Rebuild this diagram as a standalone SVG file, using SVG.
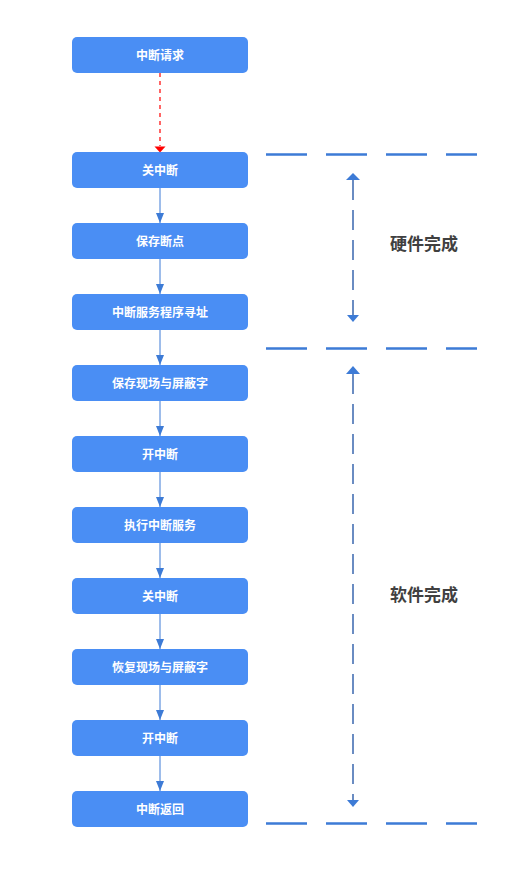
<svg xmlns="http://www.w3.org/2000/svg" width="520" height="894" viewBox="0 0 520 894">
<style>
.box{fill:#4a8ef4;}
.bt{font-family:"Noto Sans CJK SC","Noto Sans",sans-serif;font-size:12px;font-weight:bold;fill:#ffffff;text-anchor:middle;}
.lab{font-family:"Noto Sans CJK SC","Noto Sans",sans-serif;font-size:17px;font-weight:bold;fill:#404040;text-anchor:middle;}
.flow{stroke:#3d7bd6;stroke-width:1;fill:none;}
.sep{stroke:#3d7bd6;stroke-width:2.5;stroke-dasharray:41 19;fill:none;}
.span{stroke:#6a8cc2;stroke-width:2;stroke-dasharray:20 10;fill:none;}
</style>
<defs>
<marker id="ah" markerUnits="userSpaceOnUse" markerWidth="12" markerHeight="8" refX="10" refY="4" orient="auto">
<path d="M0,0 L10,4 L0,8 Z" fill="#3d7bd6"/>
</marker>
<marker id="ahr" markerUnits="userSpaceOnUse" markerWidth="12" markerHeight="12" refX="6" refY="6" orient="auto">
<path d="M0,0 L6,6 L0,12 Z" fill="#ff0000"/>
</marker>
</defs>
<rect width="520" height="894" fill="#ffffff"/>
<g id="connectors">
<line x1="160" y1="73" x2="160" y2="146" stroke="#ff0000" stroke-width="1.2" stroke-dasharray="4 4"/>
<path d="M154.5,146.5 L165.5,146.5 L160,152.5 Z" fill="#ff0000"/>
<line class="flow" x1="160" y1="188" x2="160" y2="223" marker-end="url(#ah)"/>
<line class="flow" x1="160" y1="259" x2="160" y2="294" marker-end="url(#ah)"/>
<line class="flow" x1="160" y1="330" x2="160" y2="365" marker-end="url(#ah)"/>
<line class="flow" x1="160" y1="401" x2="160" y2="436" marker-end="url(#ah)"/>
<line class="flow" x1="160" y1="472" x2="160" y2="507" marker-end="url(#ah)"/>
<line class="flow" x1="160" y1="543" x2="160" y2="578" marker-end="url(#ah)"/>
<line class="flow" x1="160" y1="614" x2="160" y2="649" marker-end="url(#ah)"/>
<line class="flow" x1="160" y1="685" x2="160" y2="720" marker-end="url(#ah)"/>
<line class="flow" x1="160" y1="756" x2="160" y2="791" marker-end="url(#ah)"/>
</g>
<g id="separators">
<line class="sep" x1="266" y1="154.5" x2="477" y2="154.5"/>
<line class="sep" x1="266" y1="348.5" x2="477" y2="348.5"/>
<line class="sep" x1="266" y1="823.5" x2="477" y2="823.5"/>
</g>
<g id="span-hardware">
<line class="span" x1="353" y1="180" x2="353" y2="315"/>
<path d="M346,180 L360,180 L353,173 Z" fill="#3d7bd6"/>
<path d="M347,315 L359,315 L353,322 Z" fill="#3d7bd6"/>
<text class="lab" x="424" y="250">硬件完成</text>
</g>
<g id="span-software">
<line class="span" x1="353" y1="374" x2="353" y2="800"/>
<path d="M346,374 L360,374 L353,366 Z" fill="#3d7bd6"/>
<path d="M347,800 L359,800 L353,807 Z" fill="#3d7bd6"/>
<text class="lab" x="424" y="601">软件完成</text>
</g>
<g id="n1"><rect class="box" x="72" y="37" width="176" height="36" rx="5"/><text class="bt" x="160" y="59.5">中断请求</text></g>
<g id="n2"><rect class="box" x="72" y="152" width="176" height="36" rx="5"/><text class="bt" x="160" y="174.5">关中断</text></g>
<g id="n3"><rect class="box" x="72" y="223" width="176" height="36" rx="5"/><text class="bt" x="160" y="245.5">保存断点</text></g>
<g id="n4"><rect class="box" x="72" y="294" width="176" height="36" rx="5"/><text class="bt" x="160" y="316.5">中断服务程序寻址</text></g>
<g id="n5"><rect class="box" x="72" y="365" width="176" height="36" rx="5"/><text class="bt" x="160" y="387.5">保存现场与屏蔽字</text></g>
<g id="n6"><rect class="box" x="72" y="436" width="176" height="36" rx="5"/><text class="bt" x="160" y="458.5">开中断</text></g>
<g id="n7"><rect class="box" x="72" y="507" width="176" height="36" rx="5"/><text class="bt" x="160" y="529.5">执行中断服务</text></g>
<g id="n8"><rect class="box" x="72" y="578" width="176" height="36" rx="5"/><text class="bt" x="160" y="600.5">关中断</text></g>
<g id="n9"><rect class="box" x="72" y="649" width="176" height="36" rx="5"/><text class="bt" x="160" y="671.5">恢复现场与屏蔽字</text></g>
<g id="n10"><rect class="box" x="72" y="720" width="176" height="36" rx="5"/><text class="bt" x="160" y="742.5">开中断</text></g>
<g id="n11"><rect class="box" x="72" y="791" width="176" height="36" rx="5"/><text class="bt" x="160" y="813.5">中断返回</text></g>
</svg>
